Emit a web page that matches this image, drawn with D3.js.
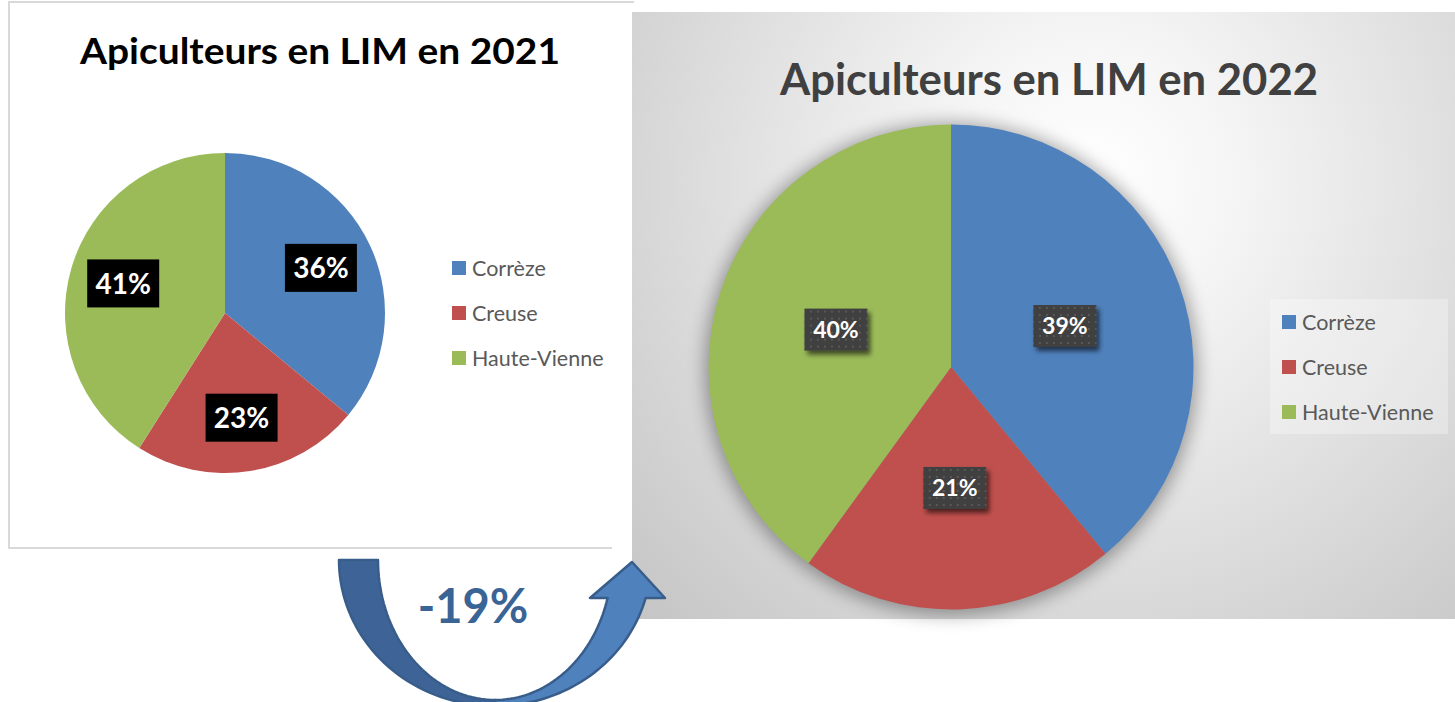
<!DOCTYPE html>
<html>
<head>
<meta charset="utf-8">
<script src="https://cdn.jsdelivr.net/npm/d3@7"></script>
<style>
  body { margin: 0; background: #fff; }
  svg { display: block; font-family: Lato, "Open Sans", sans-serif; }
</style>
</head>
<body>
<svg id="chart" width="1455" height="702"></svg>
<script>
// data
var categories = ["Corrèze", "Creuse", "Haute-Vienne"];
var values2021 = [36, 23, 41];
var values2022 = [39, 21, 40];
var colors = ["#4f81bd", "#c0504d", "#9bbb59"];
var title2021 = "Apiculteurs en LIM en 2021";
var title2022 = "Apiculteurs en LIM en 2022";
var changeLabel = "-19%";

var svg = d3.select("#chart");
var defs = svg.append("defs");

// background gradient of the 2022 panel
var grad = defs.append("radialGradient")
	.attr("id", "bg2022")
	.attr("gradientUnits", "userSpaceOnUse")
	.attr("cx", 1090).attr("cy", 180).attr("r", 720);
grad.append("stop").attr("offset", 0).attr("stop-color", "#ffffff");
grad.append("stop").attr("offset", 0.2).attr("stop-color", "#f5f5f5");
grad.append("stop").attr("offset", 1).attr("stop-color", "#bcbcbc");

// soft halo behind the 2022 pie
var halo = defs.append("filter").attr("id", "halo")
	.attr("x", "-20%").attr("y", "-20%").attr("width", "140%").attr("height", "140%");
halo.append("feGaussianBlur").attr("stdDeviation", 9);

// shadow of the label boxes
var boxShadow = defs.append("filter").attr("id", "boxShadow")
	.attr("x", "-30%").attr("y", "-30%").attr("width", "160%").attr("height", "160%");
boxShadow.append("feGaussianBlur").attr("in", "SourceAlpha").attr("stdDeviation", 2.5).attr("result", "b");
boxShadow.append("feOffset").attr("in", "b").attr("dx", 3).attr("dy", 4).attr("result", "o");
boxShadow.append("feComponentTransfer").attr("in", "o").attr("result", "s")
	.append("feFuncA").attr("type", "linear").attr("slope", 0.6);
var merge = boxShadow.append("feMerge");
merge.append("feMergeNode").attr("in", "s");
merge.append("feMergeNode").attr("in", "SourceGraphic");

// dotted texture of the label boxes
var dots = defs.append("pattern").attr("id", "dots")
	.attr("patternUnits", "userSpaceOnUse").attr("width", 7).attr("height", 7);
dots.append("rect").attr("width", 7).attr("height", 7).attr("fill", "#3f3f3f");
dots.append("rect").attr("x", 2).attr("y", 2).attr("width", 2).attr("height", 2).attr("fill", "#595959");

// ---------- 2021 panel ----------
var border = svg.append("g").attr("stroke", "#d9d9d9").attr("stroke-width", 2);
border.append("line").attr("x1", 8).attr("y1", 2).attr("x2", 634).attr("y2", 2);
border.append("line").attr("x1", 9).attr("y1", 2).attr("x2", 9).attr("y2", 548);
border.append("line").attr("x1", 8).attr("y1", 548).attr("x2", 612).attr("y2", 548);

svg.append("text")
	.attr("x", 320).attr("y", 64)
	.attr("text-anchor", "middle")
	.attr("font-size", 37).attr("font-weight", "bold").attr("fill", "#000")
	.attr("textLength", 480).attr("lengthAdjust", "spacingAndGlyphs")
	.text(title2021);

var pie = d3.pie().sort(null).value(function(d) { return d; });

function drawPie(g, values, r, labelRadius, fontSize, boxW, boxH, styled) {
	var arcs = pie(values);
	var arc = d3.arc().innerRadius(0).outerRadius(r);
	var labelArc = d3.arc().innerRadius(labelRadius).outerRadius(labelRadius);

	g.selectAll("path.slice").data(arcs).enter().append("path")
		.attr("class", "slice")
		.attr("d", arc)
		.attr("fill", function(d, i) { return colors[i]; });

	var labels = g.selectAll("g.label").data(arcs).enter().append("g")
		.attr("class", "label")
		.attr("transform", function(d) {
			var c = labelArc.centroid(d);
			return "translate(" + c[0] + "," + c[1] + ")";
		});

	labels.append("rect")
		.attr("x", -boxW / 2).attr("y", -boxH / 2)
		.attr("width", boxW).attr("height", boxH)
		.attr("fill", styled ? "url(#dots)" : "#000")
		.attr("filter", styled ? "url(#boxShadow)" : null);

	labels.append("text")
		.attr("text-anchor", "middle")
		.attr("dy", "0.36em")
		.attr("font-size", fontSize).attr("font-weight", "bold")
		.attr("fill", "#fff")
		.text(function(d) { return d.data + "%"; });
}

function drawLegend(g, rowGap) {
	var rows = g.selectAll("g").data(categories).enter().append("g")
		.attr("transform", function(d, i) { return "translate(0," + (i * rowGap) + ")"; });
	rows.append("rect")
		.attr("x", 0).attr("y", -7).attr("width", 14).attr("height", 14)
		.attr("fill", function(d, i) { return colors[i]; });
	rows.append("text")
		.attr("x", 20).attr("dy", "0.36em")
		.attr("font-size", 21.5).attr("fill", "#595959")
		.text(function(d) { return d; });
}

var pie2021 = svg.append("g").attr("transform", "translate(225,313)");
drawPie(pie2021, values2021, 160, 106, 28, 72, 48, false);

drawLegend(svg.append("g").attr("transform", "translate(452,268)"), 45);

// ---------- 2022 panel ----------
svg.append("rect")
	.attr("x", 632).attr("y", 12).attr("width", 823).attr("height", 607)
	.attr("fill", "url(#bg2022)");

svg.append("text")
	.attr("x", 1049).attr("y", 95)
	.attr("text-anchor", "middle")
	.attr("font-size", 43).attr("font-weight", "bold").attr("fill", "#404040")
	.attr("textLength", 538).attr("lengthAdjust", "spacingAndGlyphs")
	.text(title2022);

svg.append("circle")
	.attr("cx", 951).attr("cy", 369).attr("r", 246)
	.attr("fill", "#000").attr("opacity", 0.35)
	.attr("filter", "url(#halo)");

var pie2022 = svg.append("g").attr("transform", "translate(951,367)");
drawPie(pie2022, values2022, 242.5, 121, 23, 63, 42, true);

svg.append("rect")
	.attr("x", 1270).attr("y", 299).attr("width", 178).attr("height", 135)
	.attr("fill", "#fff").attr("opacity", 0.3);
drawLegend(svg.append("g").attr("transform", "translate(1282,322)"), 45);

// ---------- curved arrow with the change ----------
var ac = { x: 495, y: 560 };
var outer = { rx: 156, ry: 146 };
var inner = { rx: 117, ry: 140 };

function ellPt(e, deg) {
	var t = deg * Math.PI / 180;
	return [ac.x + e.rx * Math.cos(t), ac.y + e.ry * Math.sin(t)];
}

function band(a0, a1) {
	var p = d3.path();
	var steps = 40, i, pt;
	for (i = 0; i <= steps; i++) {
		pt = ellPt(outer, a0 + (a1 - a0) * i / steps);
		if (i === 0) p.moveTo(pt[0], pt[1]); else p.lineTo(pt[0], pt[1]);
	}
	for (i = steps; i >= 0; i--) {
		pt = ellPt(inner, a0 + (a1 - a0) * i / steps);
		p.lineTo(pt[0], pt[1]);
	}
	p.closePath();
	return p.toString();
}

var arrow = svg.append("g")
	.attr("stroke", "#385d8a").attr("stroke-width", 2.5).attr("stroke-linejoin", "round");

arrow.append("path").attr("d", band(180, 90)).attr("fill", "#3e6497");

// front part rising to the head
var headBaseY = 598;
var aOut = Math.asin((headBaseY - ac.y) / outer.ry) * 180 / Math.PI;
var aIn = Math.asin((headBaseY - ac.y) / inner.ry) * 180 / Math.PI;
var front = d3.path();
var k, q;
for (k = 0; k <= 40; k++) {
	q = ellPt(outer, 90 + (aOut - 90) * k / 40);
	if (k === 0) front.moveTo(q[0], q[1]); else front.lineTo(q[0], q[1]);
}
front.lineTo(665, headBaseY);
front.lineTo(632, 562);
front.lineTo(590, headBaseY);
for (k = 40; k >= 0; k--) {
	q = ellPt(inner, 90 + (aIn - 90) * k / 40);
	front.lineTo(q[0], q[1]);
}
front.closePath();
arrow.append("path").attr("d", front.toString()).attr("fill", "#4f81bd");

svg.append("text")
	.attr("x", 473).attr("y", 623)
	.attr("text-anchor", "middle")
	.attr("font-size", 47).attr("font-weight", "bold").attr("fill", "#3a6396")
	.text(changeLabel);
</script>
</body>
</html>
